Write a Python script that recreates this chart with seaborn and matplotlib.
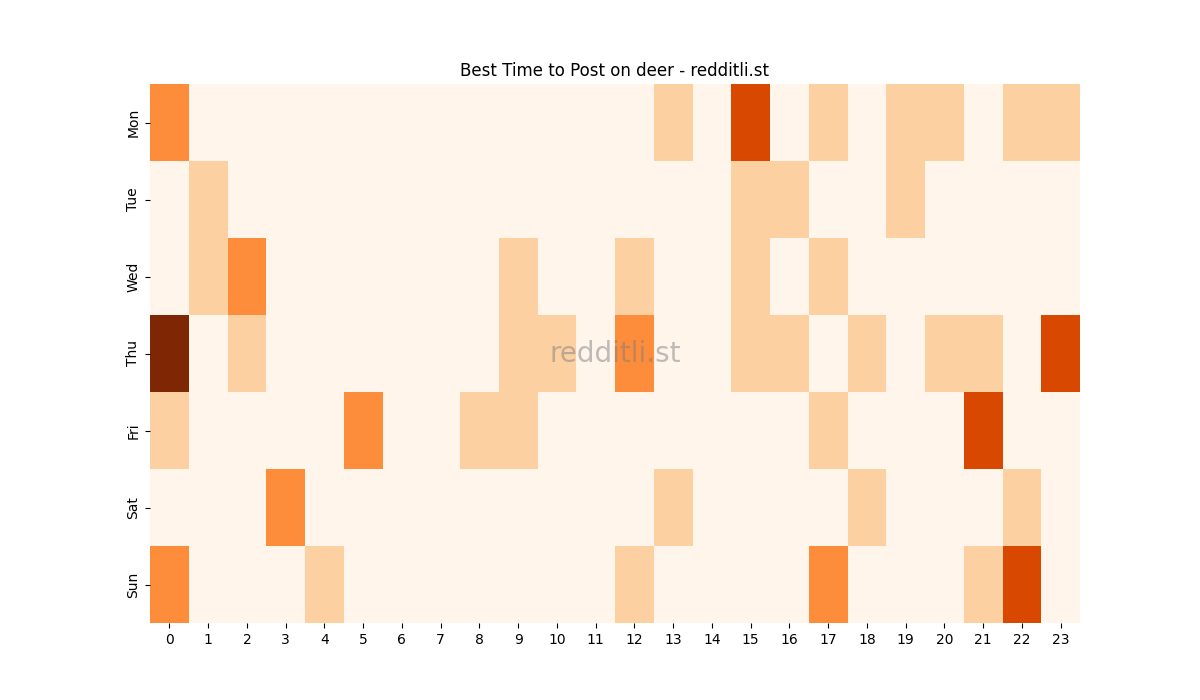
import numpy as np
import pandas as pd
import matplotlib
matplotlib.use("Agg")
import matplotlib.pyplot as plt
import seaborn as sns

days = ["Mon", "Tue", "Wed", "Thu", "Fri", "Sat", "Sun"]
hours = list(range(24))

mon = [2,0,0,0,0,0,0,0,0,0,0,0,0,1,0,3,0,1,0,1,1,0,1,1]
tue = [0,1,0,0,0,0,0,0,0,0,0,0,0,0,0,1,1,0,0,1,0,0,0,0]
wed = [0,1,2,0,0,0,0,0,0,1,0,0,1,0,0,1,0,1,0,0,0,0,0,0]
thu = [4,0,1,0,0,0,0,0,0,1,1,0,2,0,0,1,1,0,1,0,1,1,0,3]
fri = [1,0,0,0,0,2,0,0,1,1,0,0,0,0,0,0,0,1,0,0,0,3,0,0]
sat = [0,0,0,2,0,0,0,0,0,0,0,0,0,1,0,0,0,0,1,0,0,0,1,0]
sun = [2,0,0,0,1,0,0,0,0,0,0,0,1,0,0,0,0,2,0,0,0,1,3,0]

df = pd.DataFrame([mon, tue, wed, thu, fri, sat, sun], index=days, columns=hours)

fig, ax = plt.subplots(figsize=(12, 7), dpi=100)
sns.heatmap(df, cmap="Oranges", vmin=0, vmax=4, cbar=False, ax=ax)
ax.set_title("Best Time to Post on deer - redditli.st")
ax.set_xlabel("")
ax.set_ylabel("")
ax.text(0.5, 0.5, "redditli.st", transform=ax.transAxes, ha="center", va="center",
        fontsize=20, color="gray", alpha=0.5)
fig.savefig("out.png")
